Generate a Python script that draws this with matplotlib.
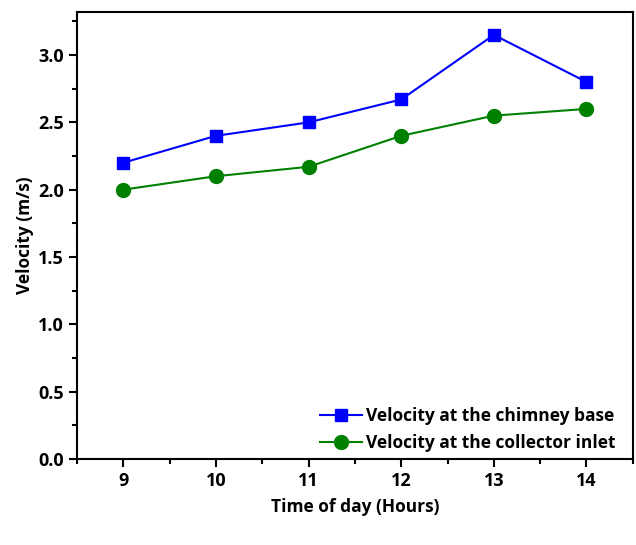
import matplotlib
matplotlib.use("Agg")
import matplotlib.pyplot as plt
from matplotlib.ticker import MultipleLocator

# =========================
# Data
# =========================
hours = [9, 10, 11, 12, 13, 14]
v_chimney = [2.2, 2.4, 2.5, 2.67, 3.15, 2.8]
v_collector = [2.0, 2.1, 2.17, 2.4, 2.55, 2.6]

plt.rcParams["font.family"] = ["Open Sans", "DejaVu Sans"]
plt.rcParams["font.weight"] = "bold"

fig = plt.figure(figsize=(6.36, 5.45), dpi=100)
ax = fig.add_axes([0.121, 0.158, 0.874, 0.820])

ax.plot(hours, v_chimney, color="blue", marker="s", markersize=9,
        linewidth=1.5, label="Velocity at the chimney base")
ax.plot(hours, v_collector, color="green", marker="o", markersize=10,
        linewidth=1.5, label="Velocity at the collector inlet")

ax.set_xlim(8.5, 14.5)
ax.set_ylim(0, 3.32)
ax.xaxis.set_major_locator(MultipleLocator(1))
ax.xaxis.set_minor_locator(MultipleLocator(0.5))
ax.yaxis.set_major_locator(MultipleLocator(0.5))
ax.yaxis.set_minor_locator(MultipleLocator(0.25))

ax.tick_params(which="major", direction="out", length=6, width=1.5, labelsize=13)
ax.tick_params(which="minor", direction="out", length=3.5, width=1.5)
for lab in ax.get_xticklabels() + ax.get_yticklabels():
    lab.set_fontweight("bold")
for sp in ax.spines.values():
    sp.set_linewidth(1.5)

ax.set_xlabel("Time of day (Hours)", fontsize=12.5, fontweight="bold", labelpad=6)
ax.set_ylabel("Velocity (m/s)", fontsize=12.5, fontweight="bold", labelpad=3)

ax.legend(loc="lower right", bbox_to_anchor=(0.982, 0.0), frameon=False,
          handlelength=2.4, handletextpad=0.25, borderaxespad=0.0, labelspacing=0.5,
          prop={"weight": "bold", "size": 12.5})

fig.savefig("out.png", dpi=100)
